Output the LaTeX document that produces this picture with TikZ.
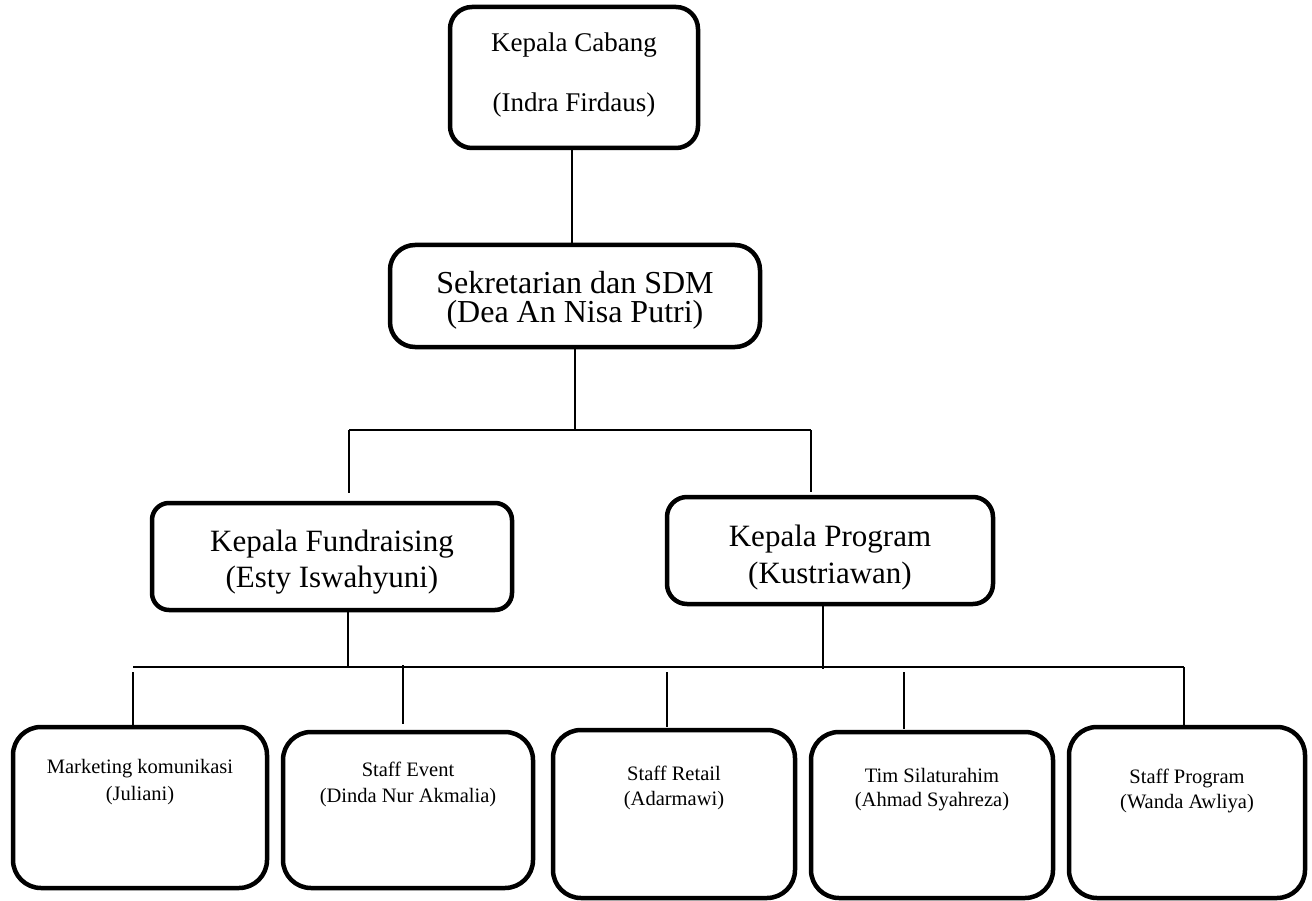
\documentclass[tikz,border=0pt]{standalone}
\usepackage{fontspec}
\setmainfont{Liberation Serif}
\newcommand\orgtext[6]{\begin{minipage}[c][#2][t]{#1}\centering\fontsize{#3}{#4}\selectfont\lineskiplimit=-100pt\rule{0pt}{#5}#6\end{minipage}}
\begin{document}
\begin{tikzpicture}[x=1pt,y=-1pt,
  box/.style={draw=black, line width=4.5pt, inner sep=0pt, outer sep=0pt},
  conn/.style={draw=black, line width=1.6pt}]
\useasboundingbox (0,0) rectangle (1312,901);
\fill[white] (0,0) rectangle (1312,901);

% top levels
\node[box, rounded corners=22pt] (cabang) at (574,77.5)
  {\orgtext{248pt}{141pt}{27}{60}{45pt}{Kepala Cabang\\(Indra Firdaus)}};
\node[box, rounded corners=25pt] (sdm) at (575,296)
  {\orgtext{370pt}{102pt}{32}{30}{48pt}{Sekretarian dan SDM\\(Dea An Nisa Putri)}};
\node[box, rounded corners=17pt] (fund) at (332,556.5)
  {\orgtext{360pt}{107pt}{31}{36}{48pt}{Kepala Fundraising\\(Esty Iswahyuni)}};
\node[box, rounded corners=20pt] (prog) at (830,550.5)
  {\orgtext{326pt}{107pt}{31}{37}{49pt}{Kepala Program\\(Kustriawan)}};

% bottom level
\node[box, rounded corners=28pt] (b1) at (140,807.5)
  {\orgtext{254pt}{161pt}{20.5}{27}{46pt}{Marketing komunikasi\\(Juliani)}};
\node[box, rounded corners=28pt] (b2) at (408,810)
  {\orgtext{250pt}{156pt}{20.5}{26}{44pt}{Staff Event\\(Dinda Nur Akmalia)}};
\node[box, rounded corners=28pt] (b3) at (674,814)
  {\orgtext{242pt}{168pt}{20.5}{25}{50pt}{Staff Retail\\(Adarmawi)}};
\node[box, rounded corners=28pt] (b4) at (932,815)
  {\orgtext{242pt}{166pt}{20.5}{24}{50pt}{Tim Silaturahim\\(Ahmad Syahreza)}};
\node[box, rounded corners=28pt] (b5) at (1187,812.5)
  {\orgtext{236pt}{171pt}{20.5}{25}{56pt}{Staff Program\\(Wanda Awliya)}};

% connector coordinates
\coordinate (busA) at (575,430);
\coordinate (busAL) at (349,430);
\coordinate (busAR) at (811,430);
\coordinate (fundTop) at (349,493);
\coordinate (progTop) at (811,492);
\coordinate (busBL) at (133,667);
\coordinate (busBR) at (1184,667);
\coordinate (t1) at (133,725);
\coordinate (t2) at (403,724);
\coordinate (t3) at (667,727);
\coordinate (t4) at (904,729);
\coordinate (t5) at (1184,725);

\draw[conn] (572,0 |- cabang.south) -- (572,0 |- sdm.north);
\draw[conn] (sdm.south) -- (busA);
\draw[conn] (busAL) -- (busAR);
\draw[conn] (busAL) -- (fundTop);
\draw[conn] (busAR) -- (progTop);
\draw[conn] (348,0 |- fund.south) -- (348,667);
\draw[conn] (823,0 |- prog.south) -- (823,669);
\draw[conn] (busBL) -- (busBR);
\draw[conn] (133,672) -- (t1);
\draw[conn] (403,665) -- (t2);
\draw[conn] (667,672) -- (t3);
\draw[conn] (904,672) -- (t4);
\draw[conn] (busBR) -- (t5);
\end{tikzpicture}
\end{document}
